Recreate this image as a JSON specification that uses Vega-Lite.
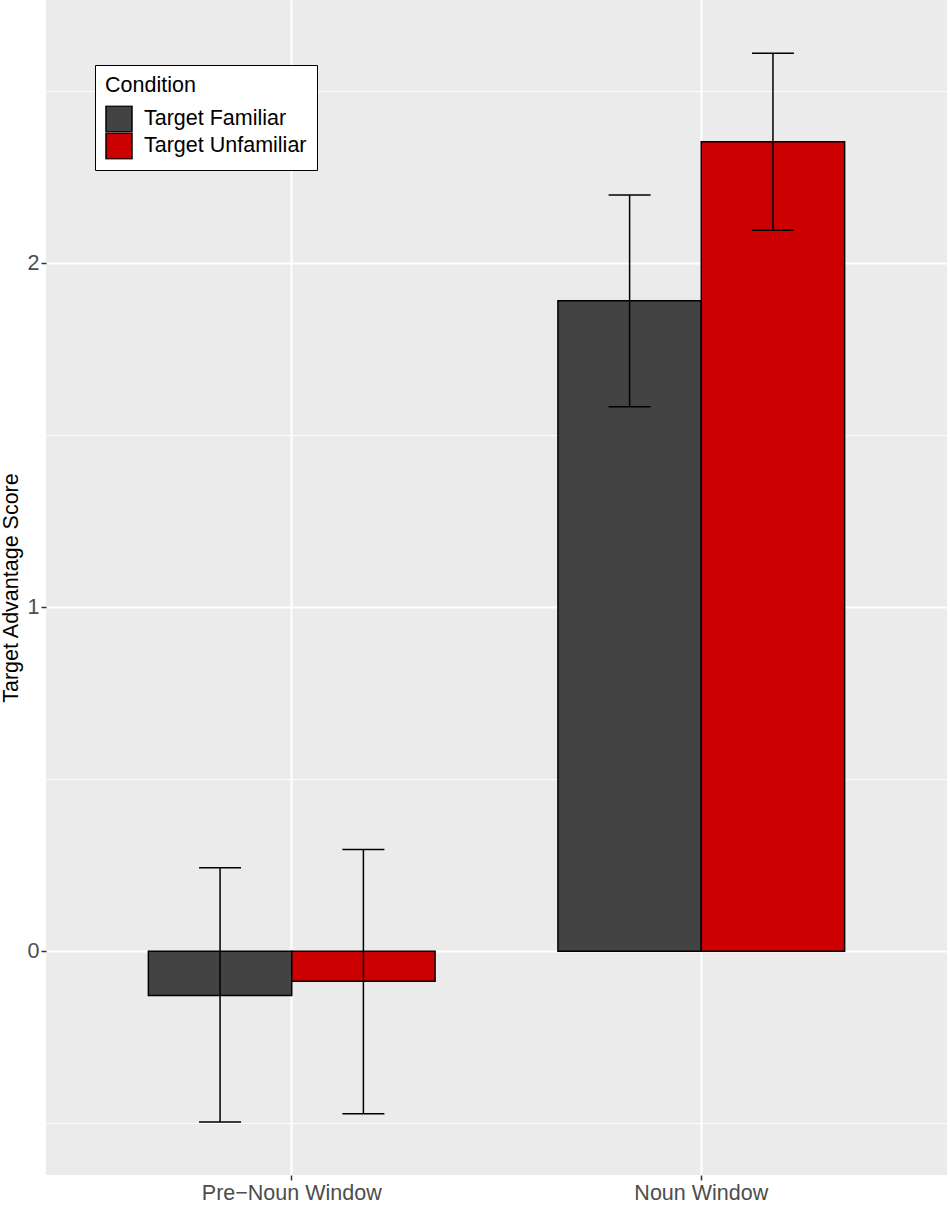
{
  "$schema": "https://vega.github.io/schema/vega-lite/v6.json",
  "autosize": "none",
  "width": 901,
  "height": 1175,
  "padding": {"left": 46, "top": 0, "right": 3, "bottom": 32},
  "background": "white",
  "data": {
    "values": [
      {"window": "Pre−Noun Window", "condition": "Target Familiar", "score": -0.128, "lo": -0.496, "hi": 0.243},
      {"window": "Pre−Noun Window", "condition": "Target Unfamiliar", "score": -0.087, "lo": -0.472, "hi": 0.296},
      {"window": "Noun Window", "condition": "Target Familiar", "score": 1.891, "lo": 1.583, "hi": 2.198},
      {"window": "Noun Window", "condition": "Target Unfamiliar", "score": 2.353, "lo": 2.096, "hi": 2.61}
    ]
  },
  "encoding": {
    "x": {
      "field": "window",
      "type": "nominal",
      "sort": ["Pre−Noun Window", "Noun Window"],
      "scale": {"paddingInner": 0.3, "paddingOuter": 0.25},
      "axis": {
        "title": null,
        "labelAngle": 0,
        "labelFontSize": 21.5,
        "labelColor": "#4D4D4D",
        "labelFont": "Liberation Sans",
        "labelPadding": 2,
        "tickColor": "#333333",
        "tickSize": 5,
        "tickWidth": 1.5,
        "domain": false,
        "grid": true,
        "gridColor": "white",
        "gridWidth": 2,
        "bandPosition": 0.5
      }
    },
    "xOffset": {
      "field": "condition",
      "type": "nominal",
      "scale": {"domain": ["Target Familiar", "Target Unfamiliar"], "paddingInner": 0, "paddingOuter": 0}
    }
  },
  "layer": [
    {
      "mark": {"type": "bar", "stroke": "black", "strokeWidth": 1.5},
      "encoding": {
        "y": {
          "field": "score",
          "type": "quantitative",
          "scale": {"domain": [-0.65, 2.765], "nice": false, "zero": false},
          "axis": {
            "title": "Target Advantage Score",
            "titleFontSize": 21.5,
            "titleFont": "Liberation Sans",
            "titleFontWeight": "normal",
            "titleColor": "black",
            "titlePadding": 5,
            "values": [-0.5, 0, 0.5, 1, 1.5, 2, 2.5],
            "labelExpr": "datum.value % 1 === 0 ? format(datum.value, 'd') : ''",
            "labelFontSize": 21.5,
            "labelFont": "Liberation Sans",
            "labelColor": "#4D4D4D",
            "labelPadding": 2,
            "tickColor": "#333333",
            "tickSize": 5,
            "tickWidth": 1.5,
            "tickOpacity": {"condition": {"test": "datum.value % 1 !== 0", "value": 0}, "value": 1},
            "domain": false,
            "grid": true,
            "gridColor": "white",
            "gridWidth": {"condition": {"test": "datum.value % 1 !== 0", "value": 1}, "value": 2}
          }
        },
        "y2": {"datum": 0},
        "fill": {
          "field": "condition",
          "type": "nominal",
          "scale": {"domain": ["Target Familiar", "Target Unfamiliar"], "range": ["#434343", "#CC0000"]},
          "legend": {
            "title": "Condition",
            "orient": "none",
            "legendX": 49,
            "legendY": 65,
            "fillColor": "white",
            "strokeColor": "black",
            "padding": 10,
            "titleFontSize": 21.5,
            "titleFont": "Liberation Sans",
            "titleFontWeight": "normal",
            "titleColor": "black",
            "titlePadding": 9,
            "labelFontSize": 21.5,
            "labelFont": "Liberation Sans",
            "labelColor": "black",
            "labelOffset": 11,
            "labelLimit": 400,
            "clipHeight": 27,
            "symbolType": "square",
            "symbolSize": 676,
            "symbolStrokeColor": "black",
            "symbolStrokeWidth": 1.5,
            "symbolOpacity": 1,
            "rowPadding": 0
          }
        }
      }
    },
    {
      "mark": {"type": "rule", "color": "black", "strokeWidth": 1.5},
      "encoding": {
        "y": {"field": "lo", "type": "quantitative"},
        "y2": {"field": "hi"}
      }
    },
    {
      "mark": {"type": "tick", "orient": "horizontal", "color": "black", "size": 42, "thickness": 1.5, "opacity": 1},
      "encoding": {
        "y": {"field": "lo", "type": "quantitative"}
      }
    },
    {
      "mark": {"type": "tick", "orient": "horizontal", "color": "black", "size": 42, "thickness": 1.5, "opacity": 1},
      "encoding": {
        "y": {"field": "hi", "type": "quantitative"}
      }
    }
  ],
  "config": {
    "view": {"fill": "#EBEBEB", "stroke": null}
  }
}
